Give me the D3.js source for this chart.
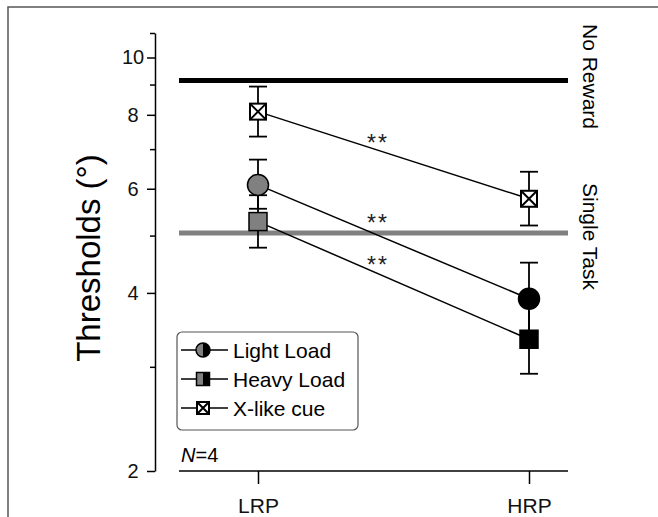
<!DOCTYPE html>
<html>
<head>
<meta charset="utf-8">
<script src="https://cdn.jsdelivr.net/npm/d3@7"></script>
<style>
  body { margin: 0; background: #fff; }
  text { font-family: "Liberation Sans", Arial, sans-serif; }
</style>
</head>
<body>
<script>
// chart values
let categories = ["LRP", "HRP"];
let lightLoad = [6.09, 3.91];
let lightLoadHi = [6.72, 4.50];
let lightLoadLo = [5.55, 3.40];
let heavyLoad = [5.28, 3.34];
let heavyLoadHi = [5.85, 3.82];
let heavyLoadLo = [4.77, 2.92];
let xCue = [8.10, 5.77];
let xCueHi = [8.93, 6.41];
let xCueLo = [7.35, 5.20];
let noReward = 9.14;
let singleTask = 5.05;
let majorTicks = [2, 4, 6, 8, 10];
let minorTicks = [3, 5, 7, 9, 11];
let legendNames = ["Light Load", "Heavy Load", "X-like cue"];
let starRows = [7.32, 5.36, 4.55];

let width = 658, height = 517;
let gray = "#808080";

let svg = d3.select("body").append("svg")
  .attr("width", width)
  .attr("height", height);

// outer frame
svg.append("rect")
  .attr("x", 8).attr("y", 7)
  .attr("width", 680).attr("height", 540)
  .attr("fill", "none")
  .attr("stroke", "#555")
  .attr("stroke-width", 1.5);

let y = d3.scaleLog().domain([2, 11]).range([471, 33]);
let x = d3.scalePoint().domain(categories).range([258, 529]);

// y axis
let yAxisG = svg.append("g")
  .attr("transform", "translate(155,0)")
  .call(d3.axisLeft(y).tickValues(majorTicks).tickFormat(d3.format("d")).tickSize(8).tickSizeOuter(0));
yAxisG.select(".domain").attr("stroke-width", 1.5);
yAxisG.selectAll(".tick line").attr("stroke-width", 1.5);
yAxisG.selectAll(".tick text")
  .attr("x", -22)
  .attr("text-anchor", "middle")
  .attr("font-size", 20)
  .attr("font-family", "Liberation Sans, Arial, sans-serif")
  .attr("fill", "#111");

svg.append("g")
  .attr("transform", "translate(155,0)")
  .call(d3.axisLeft(y).tickValues(minorTicks).tickFormat("").tickSize(5).tickSizeOuter(0))
  .call(g => g.select(".domain").remove())
  .selectAll(".tick line").attr("stroke-width", 1.5);

// x axis
svg.append("line")
  .attr("x1", 179).attr("x2", 568)
  .attr("y1", 471).attr("y2", 471)
  .attr("stroke", "#000").attr("stroke-width", 1.5);

let xAxisG = svg.append("g")
  .attr("transform", "translate(0,471)")
  .call(d3.axisBottom(x).tickSize(13).tickSizeOuter(0))
  .call(g => g.select(".domain").remove());
xAxisG.selectAll(".tick line").attr("stroke-width", 1.5);
xAxisG.selectAll(".tick text")
  .attr("y", 0)
  .attr("dy", 42)
  .attr("font-size", 21)
  .attr("font-family", "Liberation Sans, Arial, sans-serif")
  .attr("fill", "#111");

// y label
svg.append("text")
  .attr("transform", "translate(100,258) rotate(-90)")
  .attr("text-anchor", "middle")
  .attr("font-size", 33)
  .text("Thresholds (°)");

// reference lines
svg.append("line")
  .attr("x1", 179).attr("x2", 568)
  .attr("y1", y(noReward)).attr("y2", y(noReward))
  .attr("stroke", "#000").attr("stroke-width", 5);
svg.append("line")
  .attr("x1", 179).attr("x2", 568)
  .attr("y1", y(singleTask)).attr("y2", y(singleTask))
  .attr("stroke", gray).attr("stroke-width", 5);

svg.append("text")
  .attr("transform", "translate(583,24) rotate(90)")
  .attr("font-size", 21)
  .text("No Reward");
svg.append("text")
  .attr("transform", "translate(583,183) rotate(90)")
  .attr("font-size", 21)
  .text("Single Task");

// series
let series = [
  { name: "x", vals: xCue, hi: xCueHi, lo: xCueLo },
  { name: "heavy", vals: heavyLoad, hi: heavyLoadHi, lo: heavyLoadLo },
  { name: "light", vals: lightLoad, hi: lightLoadHi, lo: lightLoadLo }
];

let capW = 9;
series.forEach(s => {
  let g = svg.append("g");
  categories.forEach((c, i) => {
    let cx = x(c);
    g.append("line")
      .attr("x1", cx).attr("x2", cx)
      .attr("y1", y(s.hi[i])).attr("y2", y(s.lo[i]))
      .attr("stroke", "#000").attr("stroke-width", 1.8);
    [s.hi[i], s.lo[i]].forEach(v => {
      g.append("line")
        .attr("x1", cx - capW).attr("x2", cx + capW)
        .attr("y1", y(v)).attr("y2", y(v))
        .attr("stroke", "#000").attr("stroke-width", 1.8);
    });
  });
  let line = d3.line().x((d, i) => x(categories[i])).y(d => y(d));
  g.append("path")
    .attr("d", line(s.vals))
    .attr("fill", "none")
    .attr("stroke", "#000")
    .attr("stroke-width", 1.5);
});

// markers
categories.forEach((c, i) => {
  let cx = x(c);
  let fill = i == 0 ? gray : "#000";
  // heavy load square
  svg.append("rect")
    .attr("x", cx - 9).attr("y", y(heavyLoad[i]) - 9)
    .attr("width", 18).attr("height", 18)
    .attr("fill", fill).attr("stroke", "#000").attr("stroke-width", 1.5);
  // light load circle
  svg.append("circle")
    .attr("cx", cx).attr("cy", y(lightLoad[i]))
    .attr("r", 10.5)
    .attr("fill", fill).attr("stroke", "#000").attr("stroke-width", 1.5);
  // x-like cue
  drawXBox(svg, cx, y(xCue[i]), 16);
});

function drawXBox(parent, cx, cy, s) {
  let h = s / 2;
  parent.append("rect")
    .attr("x", cx - h).attr("y", cy - h)
    .attr("width", s).attr("height", s)
    .attr("fill", "#fff").attr("stroke", "#000").attr("stroke-width", 2);
  parent.append("path")
    .attr("d", `M${cx - h},${cy - h}L${cx + h},${cy + h}M${cx + h},${cy - h}L${cx - h},${cy + h}`)
    .attr("stroke", "#000").attr("stroke-width", 2);
}

// significance stars
svg.selectAll("text.star").data(starRows).enter().append("text")
  .attr("class", "star")
  .attr("x", 378)
  .attr("y", d => y(d) + 13)
  .attr("text-anchor", "middle")
  .attr("font-size", 23)
  .attr("letter-spacing", 2)
  .attr("fill", "#222")
  .text("**");

// legend
let lg = svg.append("g");
lg.append("rect")
  .attr("x", 177).attr("y", 332)
  .attr("width", 181).attr("height", 98)
  .attr("rx", 5)
  .attr("fill", "#fff").attr("stroke", "#555").attr("stroke-width", 1.2);

let rowY = d3.scalePoint().domain(legendNames).range([350, 408]);
legendNames.forEach((name, i) => {
  let ry = rowY(name);
  lg.append("line")
    .attr("x1", 181).attr("x2", 228)
    .attr("y1", ry).attr("y2", ry)
    .attr("stroke", "#000").attr("stroke-width", 1.5);
  let cx = 203;
  if (i == 0) {
    lg.append("path")
      .attr("d", `M${cx},${ry - 7}A7,7 0 0,0 ${cx},${ry + 7}Z`)
      .attr("fill", gray);
    lg.append("path")
      .attr("d", `M${cx},${ry - 7}A7,7 0 0,1 ${cx},${ry + 7}Z`)
      .attr("fill", "#000");
    lg.append("circle")
      .attr("cx", cx).attr("cy", ry).attr("r", 7)
      .attr("fill", "none").attr("stroke", "#000").attr("stroke-width", 1.5);
  } else if (i == 1) {
    lg.append("rect")
      .attr("x", cx - 6.5).attr("y", ry - 6.5)
      .attr("width", 6.5).attr("height", 13)
      .attr("fill", gray);
    lg.append("rect")
      .attr("x", cx).attr("y", ry - 6.5)
      .attr("width", 6.5).attr("height", 13)
      .attr("fill", "#000");
    lg.append("rect")
      .attr("x", cx - 6.5).attr("y", ry - 6.5)
      .attr("width", 13).attr("height", 13)
      .attr("fill", "none").attr("stroke", "#000").attr("stroke-width", 1.5);
  } else {
    drawXBox(lg, cx, ry, 12);
  }
  lg.append("text")
    .attr("x", 233).attr("y", ry + 7.5)
    .attr("font-size", 21)
    .text(name);
});

// N label
let nText = svg.append("text")
  .attr("x", 181).attr("y", 462)
  .attr("font-size", 20);
nText.append("tspan").attr("font-style", "italic").text("N");
nText.append("tspan").text("=4");
</script>
</body>
</html>
